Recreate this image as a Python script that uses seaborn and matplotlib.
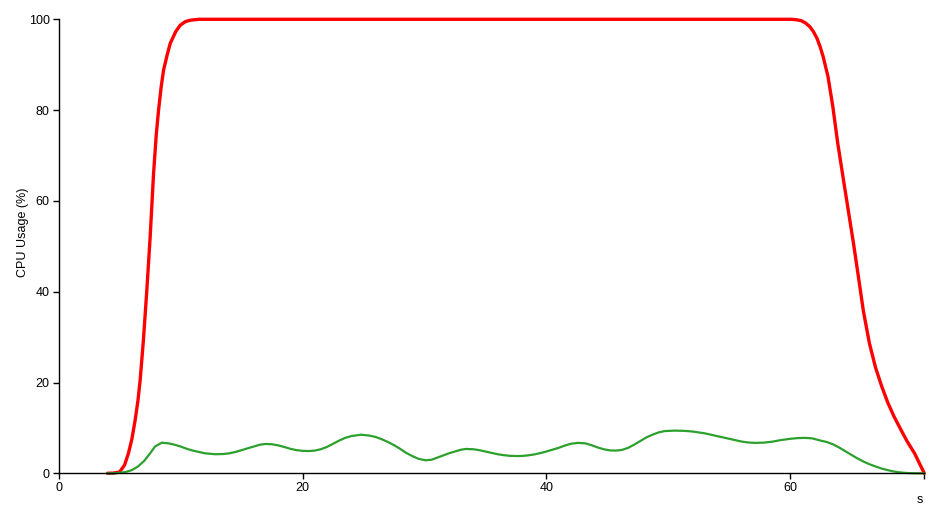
import matplotlib
matplotlib.use("Agg")
import matplotlib.pyplot as plt
import seaborn as sns
import pandas as pd

# ---- data ----
cpu_time = [4, 4.5, 5, 5.4, 5.72, 6.0, 6.27, 6.5, 6.68, 6.95, 7.23, 7.5, 7.78,
            8.0, 8.19, 8.4, 8.6, 8.9, 9.15, 9.6, 9.97, 10.4, 10.8, 11.5,
            20, 30, 40, 50, 60.1, 60.5, 60.9, 61.25, 61.6, 61.9, 62.2, 62.45, 62.7,
            63.1, 63.5, 63.9, 64.5, 65.2, 65.6, 66.0, 66.5, 67.0, 67.5, 68.0,
            68.5, 69.1, 69.6, 70.2, 70.6, 71]
cpu_main = [0, 0.05, 0.3, 1.8, 4.4, 7.5, 11.7, 16, 20.5, 29.4, 40.4, 52, 66,
            74.5, 80.0, 85, 88.8, 92.2, 94.7, 97.3, 98.7, 99.5, 99.8, 100,
            100, 100, 100, 100, 100, 99.9, 99.7, 99.2, 98.4, 97.3, 95.8, 94.0, 91.8,
            87.4, 80.7, 72.7, 62.4, 50.5, 43.2, 35.8, 28.6, 23.3, 19.2, 15.6,
            12.6, 9.5, 7.0, 4.4, 2.2, 0]

aux_time = [4, 4.5, 5, 5.5, 6, 6.5, 7, 7.5, 7.9, 8.46, 9, 9.5, 10, 10.5, 11, 11.5,
            12, 12.85, 13.5, 14, 14.5, 15, 15.5, 16, 16.5, 16.96, 17.5, 18, 18.5,
            19, 19.5, 20, 20.5, 21, 21.5, 22, 22.5, 23, 23.5, 24, 24.8, 25.5, 26,
            26.5, 27, 27.5, 28, 28.5, 29, 29.5, 30.1, 30.6, 31, 31.5, 32, 32.5, 33,
            33.4, 34, 34.5, 35, 35.5, 36, 36.5, 37, 37.6, 38, 38.5, 39, 39.5, 40,
            40.5, 41, 41.5, 42, 42.6, 43.2, 43.7, 44.2, 44.7, 45.2, 45.7, 46.2,
            46.7, 47.2, 47.7, 48.2, 48.7, 49.2, 49.7, 50.5, 51.3, 52, 53, 54, 55,
            56, 56.5, 57.1, 57.8, 58.5, 59.2, 60, 60.6, 61.2, 61.8, 62.5, 63, 63.5,
            64, 64.5, 65, 65.5, 66, 66.5, 67, 67.5, 68, 68.5, 69, 69.5, 70, 71]
aux_main = [0, 0.02, 0.1, 0.3, 0.7, 1.5, 2.7, 4.4, 5.9, 6.75, 6.6, 6.3, 5.9, 5.4,
            5.0, 4.7, 4.4, 4.2, 4.25, 4.4, 4.7, 5.1, 5.5, 5.9, 6.3, 6.46, 6.4,
            6.15, 5.8, 5.4, 5.1, 4.95, 4.9, 5.0, 5.3, 5.8, 6.5, 7.2, 7.8, 8.2, 8.5,
            8.3, 8.0, 7.5, 6.9, 6.2, 5.4, 4.5, 3.8, 3.2, 2.86, 3.0, 3.4, 3.9, 4.4,
            4.8, 5.2, 5.36, 5.3, 5.1, 4.8, 4.5, 4.2, 4.0, 3.85, 3.8, 3.82, 3.95,
            4.15, 4.45, 4.8, 5.2, 5.6, 6.1, 6.5, 6.7, 6.6, 6.2, 5.7, 5.3, 5.05, 5.0,
            5.15, 5.6, 6.3, 7.1, 7.9, 8.5, 9.0, 9.3, 9.4, 9.35, 9.2, 8.8, 8.2, 7.6,
            7.0, 6.8, 6.7, 6.75, 6.95, 7.3, 7.6, 7.75, 7.8, 7.7, 7.2, 6.9, 6.4,
            5.7, 4.9, 4.1, 3.3, 2.6, 2.0, 1.5, 1.05, 0.7, 0.4, 0.2, 0.08, 0.02, 0]

x_ticks = [0, 20, 40, 60]
y_ticks = [0, 20, 40, 60, 80, 100]

df_cpu = pd.DataFrame({"t": cpu_time, "v": cpu_main})
df_aux = pd.DataFrame({"t": aux_time, "v": aux_main})

sns.set_theme(style="white")
plt.rcParams["font.family"] = ["Liberation Sans", "DejaVu Sans"]

fig = plt.figure(figsize=(9.39, 5.15), dpi=100)
ax = fig.add_axes([58.7 / 939, (515 - 473.3) / 515, (924.3 - 58.7) / 939, (473.3 - 19.3) / 515])

sns.lineplot(data=df_cpu, x="t", y="v", ax=ax, color="#ff0000", linewidth=2.4,
             solid_joinstyle="round", solid_capstyle="round")
sns.lineplot(data=df_aux, x="t", y="v", ax=ax, color="#2ca02c", linewidth=1.6,
             solid_joinstyle="round", solid_capstyle="round")

ax.set_xlim(0, 71)
ax.set_ylim(0, 100)
ax.set_xticks(x_ticks + [71])
ax.set_xticklabels([str(t) for t in x_ticks] + [""])
ax.set_yticks(y_ticks)
ax.set_yticklabels([str(t) for t in y_ticks])

for side in ["top", "right"]:
    ax.spines[side].set_visible(False)
for side in ["left", "bottom"]:
    ax.spines[side].set_color("black")
    ax.spines[side].set_linewidth(1.0)

ax.tick_params(axis="both", direction="out", length=4.5, width=1.0, color="black",
               labelsize=9, labelcolor="black", pad=2, bottom=True, left=True)

ax.set_ylabel("CPU Usage (%)", fontsize=9, color="black")
ax.yaxis.set_label_coords(-0.041, 0.531)
ax.set_xlabel("s", fontsize=9, color="black")
ax.xaxis.set_label_coords(0.995, -0.059)
ax.xaxis.label.set_verticalalignment("center")
ax.yaxis.label.set_verticalalignment("center")

for line in ax.lines:
    line.set_clip_on(False)

fig.savefig("out.png", dpi=100)
